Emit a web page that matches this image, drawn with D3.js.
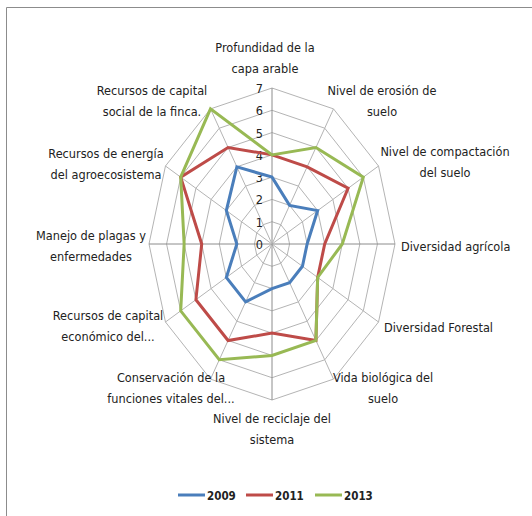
<!DOCTYPE html>
<html>
<head>
<meta charset="utf-8">
<script src="https://cdn.jsdelivr.net/npm/d3@7"></script>
<style>
  body { margin: 0; background: #fff; }
  svg text { font-family: "Liberation Sans Narrow", "DejaVu Sans Condensed", sans-serif; font-size: 12.6px; fill: #222; }
</style>
</head>
<body>
<svg width="532" height="516"></svg>
<script>
// axes clockwise from the top
let categories = [
  ["Profundidad de la", "capa arable"],
  ["Nivel de erosión de", "suelo"],
  ["Nivel de compactación", "del suelo"],
  ["Diversidad agrícola"],
  ["Diversidad Forestal"],
  ["Vida biológica del", "suelo"],
  ["Nivel de reciclaje del", "sistema"],
  ["Conservación de la", "funciones vitales del..."],
  ["Recursos de capital", "económico del..."],
  ["Manejo de plagas y", "enfermedades"],
  ["Recursos de energía", "del agroecosistema"],
  ["Recursos de capital", "social de la finca."]
];
let series_names = ["2009", "2011", "2013"];
let values_2009 = [3, 2, 3, 2, 2, 2, 2, 3, 3, 2, 3, 4];
let values_2011 = [4, 4, 5, 3, 3, 5, 4, 5, 5, 4, 6, 5];
let values_2013 = [4, 5, 6, 4, 3, 5, 5, 6, 6, 5, 6, 7];
let tick_values = [0, 1, 2, 3, 4, 5, 6, 7];

let colors = ["#4a7ebb", "#be4b48", "#98b954"];

// label placement: [x, y of first line, anchor]
let label_pos = [
  [265, 52, "middle"], [382, 95, "middle"], [445, 156, "middle"], [401, 251, "start"],
  [384, 332, "start"], [383, 382, "middle"], [272, 423, "middle"], [171, 382, "middle"],
  [108, 320, "middle"], [91, 240, "middle"], [106, 158, "middle"], [152, 95, "middle"]
];

let cx = 272, cy = 244;
let rx = d3.scaleLinear().domain([0, 7]).range([0, 123]);
let ry = d3.scaleLinear().domain([0, 7]).range([0, 156]);
let angle = d3.scaleLinear().domain([0, categories.length]).range([0, 2 * Math.PI]);

function px(i, v) { return cx + rx(v) * Math.sin(angle(i)); }
function py(i, v) { return cy - ry(v) * Math.cos(angle(i)); }

let svg = d3.select('svg');

// frame (left and top edges visible)
svg.append('path')
  .attr('d', 'M6.5,516 L6.5,7.5 L532,7.5')
  .attr('fill', 'none')
  .attr('stroke', '#8c8c8c')
  .attr('stroke-width', 1);

let grid = svg.append('g');

grid.selectAll('polygon')
  .data(tick_values.slice(1))
  .join('polygon')
  .attr('points', function (t) {
    return categories.map(function (c, i) { return px(i, t) + ',' + py(i, t); }).join(' ');
  })
  .attr('fill', 'none')
  .attr('stroke', '#b4b4b4')
  .attr('stroke-width', 1);

grid.selectAll('line')
  .data(categories)
  .join('line')
  .attr('x1', cx)
  .attr('y1', cy)
  .attr('x2', function (d, i) { return px(i, 7); })
  .attr('y2', function (d, i) { return py(i, 7); })
  .attr('stroke', function (d, i) { return (i % 3 === 0) ? '#8c8c8c' : '#b4b4b4'; })
  .attr('stroke-width', 1);

// tick numbers on the top axis
svg.append('g')
  .selectAll('text')
  .data(tick_values)
  .join('text')
  .attr('x', cx - 9)
  .attr('y', function (t) { return py(0, t) + 5; })
  .attr('text-anchor', 'end')
  .text(function (t) { return t; });

// series
let all_series = [values_2009, values_2011, values_2013];
let line = d3.line()
  .x(function (d) { return px(d.i, d.v); })
  .y(function (d) { return py(d.i, d.v); })
  .curve(d3.curveLinearClosed);

svg.append('g')
  .selectAll('path')
  .data(all_series)
  .join('path')
  .attr('d', function (s) { return line(s.map(function (v, i) { return { i: i, v: v }; })); })
  .attr('fill', 'none')
  .attr('stroke', function (s, k) { return colors[k]; })
  .attr('stroke-width', 3)
  .attr('stroke-linejoin', 'miter');

// category labels
svg.append('g')
  .selectAll('text')
  .data(categories)
  .join('text')
  .attr('text-anchor', function (d, i) { return label_pos[i][2]; })
  .each(function (d, i) {
    let t = d3.select(this);
    d.forEach(function (ln, j) {
      t.append('tspan')
        .attr('x', label_pos[i][0])
        .attr('y', label_pos[i][1] + j * 20.5)
        .text(ln);
    });
  });

// legend
let legend_x = [178, 246, 315];
let legend = svg.append('g')
  .selectAll('g')
  .data(series_names)
  .join('g')
  .attr('transform', function (d, k) { return 'translate(' + legend_x[k] + ',495)'; });

legend.append('line')
  .attr('x1', 0).attr('x2', 27)
  .attr('y1', 0).attr('y2', 0)
  .attr('stroke', function (d, k) { return colors[k]; })
  .attr('stroke-width', 3);

legend.append('text')
  .attr('x', 29)
  .attr('y', 5)
  .style('font-weight', 'bold')
  .style('font-size', '11.5px')
  .text(function (d) { return d; });
</script>
</body>
</html>
